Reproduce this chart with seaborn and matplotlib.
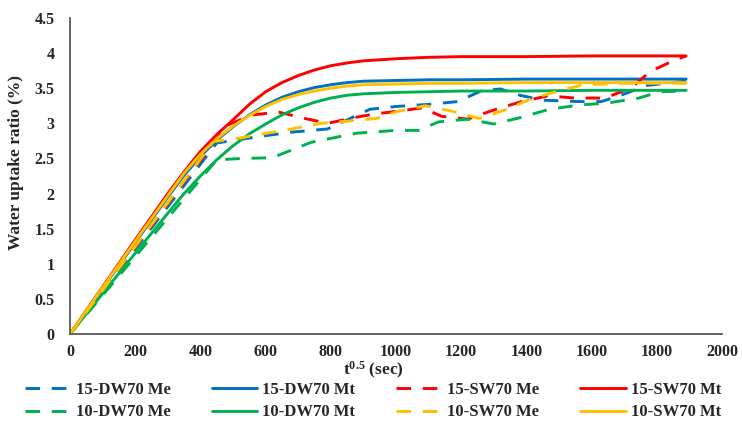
import numpy as np
import pandas as pd
import matplotlib
matplotlib.use("Agg")
import matplotlib.pyplot as plt
import seaborn as sns

# ---------------- data ----------------
x_mt = [0, 200, 300, 350, 400, 450, 500, 550, 600, 650, 700, 750, 800, 850, 900, 1000, 1100, 1200, 1400, 1600, 1890]
dw15_mt = [0, 1.30, 1.95, 2.26, 2.53, 2.76, 2.95, 3.12, 3.26, 3.37, 3.45, 3.51, 3.55, 3.58, 3.60, 3.61, 3.62, 3.62, 3.63, 3.63, 3.63]
sw15_mt = [0, 1.34, 2.00, 2.31, 2.60, 2.84, 3.05, 3.27, 3.45, 3.58, 3.68, 3.76, 3.82, 3.86, 3.89, 3.92, 3.94, 3.95, 3.95, 3.96, 3.96]
dw10_mt = [0, 1.15, 1.72, 2.00, 2.25, 2.48, 2.68, 2.85, 2.99, 3.12, 3.22, 3.30, 3.36, 3.40, 3.42, 3.44, 3.45, 3.46, 3.46, 3.47, 3.47]
sw10_mt = [0, 1.32, 1.97, 2.29, 2.56, 2.78, 2.96, 3.11, 3.24, 3.34, 3.41, 3.46, 3.50, 3.53, 3.55, 3.56, 3.57, 3.57, 3.58, 3.58, 3.58]

x_dw15_me = [0, 450, 520, 670, 790, 920, 1000, 1100, 1190, 1260, 1320, 1380, 1450, 1560, 1630, 1690, 1770, 1890]
dw15_me = [0, 2.72, 2.77, 2.87, 2.92, 3.20, 3.24, 3.27, 3.31, 3.46, 3.49, 3.40, 3.33, 3.31, 3.31, 3.40, 3.54, 3.60]

x_sw15_me = [0, 480, 560, 640, 720, 790, 870, 930, 1000, 1080, 1140, 1220, 1300, 1385, 1465, 1550, 1640, 1720, 1780, 1855, 1890]
sw15_me = [0, 2.97, 3.12, 3.16, 3.07, 3.00, 3.08, 3.13, 3.17, 3.22, 3.10, 3.06, 3.19, 3.31, 3.39, 3.36, 3.36, 3.50, 3.74, 3.90, 3.96]

x_dw10_me = [0, 450, 530, 620, 740, 880, 1000, 1070, 1130, 1220, 1300, 1380, 1470, 1560, 1650, 1745, 1810, 1890]
dw10_me = [0, 2.48, 2.50, 2.51, 2.73, 2.86, 2.90, 2.90, 3.02, 3.06, 2.99, 3.08, 3.20, 3.26, 3.29, 3.36, 3.45, 3.46]

x_sw10_me = [0, 440, 520, 580, 680, 770, 850, 940, 1005, 1090, 1175, 1255, 1335, 1415, 1490, 1575, 1700, 1890]
sw10_me = [0, 2.74, 2.79, 2.84, 2.92, 3.00, 3.03, 3.07, 3.17, 3.25, 3.17, 3.07, 3.19, 3.35, 3.45, 3.55, 3.57, 3.57]

y_ticks = [0, 0.5, 1, 1.5, 2, 2.5, 3, 3.5, 4, 4.5]
y_tick_labels = ["0", "0.5", "1", "1.5", "2", "2.5", "3", "3.5", "4", "4.5"]
x_ticks = [0, 200, 400, 600, 800, 1000, 1200, 1400, 1600, 1800, 2000]
x_tick_labels = [str(v) for v in x_ticks]

BLUE, RED, GREEN, YELLOW = "#0070C0", "#FF0000", "#00B050", "#FFC000"

series = [
    ("15-DW70 Me", x_dw15_me, dw15_me, BLUE, True),
    ("15-DW70 Mt", x_mt, dw15_mt, BLUE, False),
    ("15-SW70 Me", x_sw15_me, sw15_me, RED, True),
    ("15-SW70 Mt", x_mt, sw15_mt, RED, False),
    ("10-DW70 Me", x_dw10_me, dw10_me, GREEN, True),
    ("10-DW70 Mt", x_mt, dw10_mt, GREEN, False),
    ("10-SW70 Me", x_sw10_me, sw10_me, YELLOW, True),
    ("10-SW70 Mt", x_mt, sw10_mt, YELLOW, False),
]

# ---------------- style ----------------
sns.set_style("white")
plt.rcParams["font.family"] = ["Liberation Serif", "DejaVu Serif"]
plt.rcParams["font.weight"] = "bold"
plt.rcParams["mathtext.fontset"] = "custom"
plt.rcParams["mathtext.rm"] = "Liberation Serif:bold"
plt.rcParams["mathtext.bf"] = "Liberation Serif:bold"
plt.rcParams["mathtext.it"] = "Liberation Serif:bold"

fig = plt.figure(figsize=(7.42, 4.21), dpi=100)
ax = fig.add_axes([70 / 742, 1 - 334 / 421, 652 / 742, 316 / 421])

handles = {}
for name, xs, ys, col, dashed in series:
    df = pd.DataFrame({"x": xs, "y": ys})
    ls = (0, (5.0, 4.0)) if dashed else "-"
    sns.lineplot(data=df, x="x", y="y", ax=ax, color=col, linewidth=2.1,
                 linestyle=ls, estimator=None, sort=False, label=name,
                 legend=False)
    handles[name] = ax.lines[-1]

ax.set_xlim(0, 2000)
ax.set_ylim(0, 4.5)
ax.set_xticks(x_ticks)
ax.set_xticklabels(x_tick_labels, fontsize=11.5, fontweight="bold")
ax.set_yticks(y_ticks)
ax.set_yticklabels(y_tick_labels, fontsize=11.5, fontweight="bold")
ax.tick_params(axis="both", length=0)
ax.tick_params(axis="y", pad=11)
ax.tick_params(axis="x", pad=7)
ax.grid(False)
for s in ["top", "right"]:
    ax.spines[s].set_visible(False)
for s in ["left", "bottom"]:
    ax.spines[s].set_color("#595959")
    ax.spines[s].set_linewidth(1.3)

ax.set_xlabel(r"$\mathrm{t}^{\mathrm{0.5}}$ (sec)", fontsize=12.5, fontweight="bold")
ax.xaxis.label.set_va("center")
ax.xaxis.set_label_coords((373 - 70) / 652, (334 - 370) / 316)
ax.set_ylabel("Water uptake ratio (%)", fontsize=12.5, fontweight="bold")
ax.yaxis.label.set_va("center")
ax.yaxis.label.set_rotation_mode("default")
ax.yaxis.set_label_coords((16 - 70) / 652, (334 - 162) / 316)

order = ["15-DW70 Me", "10-DW70 Me", "15-DW70 Mt", "10-DW70 Mt",
         "15-SW70 Me", "10-SW70 Me", "15-SW70 Mt", "10-SW70 Mt"]
leg = fig.legend([handles[n] for n in order], order, loc="upper left",
                 bbox_to_anchor=(25 / 742, 1 - 382 / 421), ncol=4, frameon=False,
                 prop={"family": "Liberation Serif", "weight": "bold", "size": 12},
                 handlelength=2.75, handletextpad=0.3, columnspacing=2.45,
                 labelspacing=0.38, borderpad=0, borderaxespad=0)

fig.savefig("out.png", dpi=100)
